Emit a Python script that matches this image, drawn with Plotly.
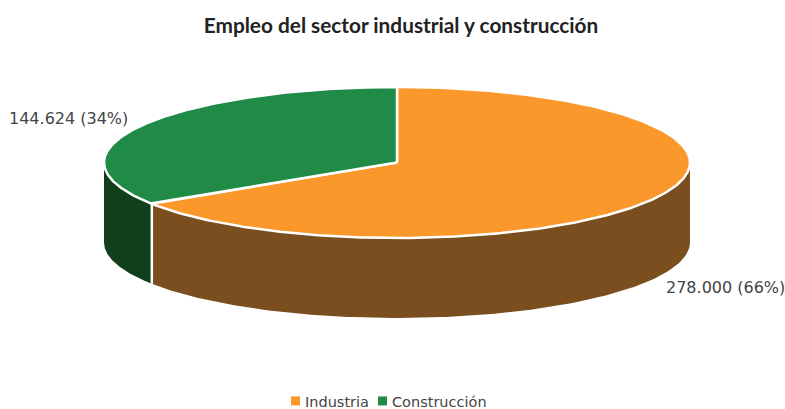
import numpy as np
import plotly.graph_objects as go

title = "Empleo del sector industrial y construcción"
categories = ["Industria", "Construcción"]
values = [278000, 144624]
top_colors = ["#FB982C", "#208A47"]
side_colors = ["#7A4E1E", "#123F1B"]

W, H = 785, 409
CX, CY, RX, RY, DEPTH = 397, 162.5, 293, 75.5, 80
LABEL_POS = [(664, 287, "left"), (130, 118, "right")]

total = sum(values)
fracs = [v / total for v in values]


def ell(t):
    return CX + RX * np.sin(t), CY - RY * np.cos(t)


fig = go.Figure()
edges = np.cumsum([0] + fracs) * 2 * np.pi

# side walls (only the front half of the cylinder is visible)
for i, cat in enumerate(categories):
    a = max(edges[i], np.pi / 2)
    b = min(edges[i + 1], 3 * np.pi / 2)
    if b <= a:
        continue
    t = np.linspace(a, b, 160)
    x, y = ell(t)
    px = np.concatenate([x, x[::-1], x[:1]])
    py = np.concatenate([y, y[::-1] + DEPTH, y[:1]])
    fig.add_trace(go.Scatter(x=px, y=py, mode="lines", fill="toself", fillcolor=side_colors[i],
                             line=dict(color=side_colors[i], width=0), hoverinfo="skip", showlegend=False))

# vertical white separators on the visible wall
for e in edges:
    if np.pi / 2 < e < 3 * np.pi / 2:
        x, y = ell(e)
        fig.add_trace(go.Scatter(x=[x, x], y=[y, y + DEPTH], mode="lines",
                                 line=dict(color="white", width=2.5), hoverinfo="skip", showlegend=False))

# top faces
for i, cat in enumerate(categories):
    t = np.linspace(edges[i], edges[i + 1], 300)
    x, y = ell(t)
    px = np.concatenate([[CX], x, [CX]])
    py = np.concatenate([[CY], y, [CY]])
    fig.add_trace(go.Scatter(x=px, y=py, mode="lines", fill="toself", fillcolor=top_colors[i],
                             line=dict(color="white", width=2.5), hoverinfo="skip", showlegend=False))

# legend entries
for i, cat in enumerate(categories):
    fig.add_trace(go.Scatter(x=[None], y=[None], mode="markers", name=cat,
                             marker=dict(symbol="square", size=9, color=top_colors[i])))

# data labels
for i, v in enumerate(values):
    lx, ly, anchor = LABEL_POS[i]
    txt = f"{v:,}".replace(",", ".") + f" ({round(fracs[i] * 100)}%)"
    fig.add_annotation(x=lx, y=ly, text=txt, showarrow=False, xanchor=anchor, yanchor="middle",
                       font=dict(family="DejaVu Sans", size=16, color="#444444"))

fig.update_layout(
    width=W, height=H, margin=dict(l=0, r=0, t=0, b=0),
    paper_bgcolor="white", plot_bgcolor="white",
    title=dict(text=f"<b>{title}</b>", x=401 / W, xanchor="center", y=0.936, yanchor="middle",
               font=dict(family="Lato", size=20.8, color="#222222")),
    xaxis=dict(range=[0, W], visible=False, fixedrange=True),
    yaxis=dict(range=[H, 0], visible=False, fixedrange=True),
    legend=dict(orientation="h", x=265 / W, xanchor="left", y=0.0, yanchor="bottom",
                font=dict(family="DejaVu Sans", size=14.5, color="#444444"),
                bgcolor="rgba(0,0,0,0)"),
    showlegend=True,
)

# Remove the page margin; tighten the swatch-to-text gap of the legend entries.
post = """
document.body.style.margin = '0';
var tr = /translate\\(([-\\d.]+),\\s*([-\\d.]+)\\)/;
var items = document.querySelectorAll('.legend .traces');
items.forEach(function (it, k) {
  var pts = it.querySelector('.legendpoints');
  if (pts) pts.setAttribute('transform', 'translate(10.5,0)');
  if (k > 0) {
    var m = tr.exec(it.getAttribute('transform'));
    if (m) it.setAttribute('transform', 'translate(' + (parseFloat(m[1]) - 22 * k) + ',' + m[2] + ')');
  }
});
var lg = document.querySelector('.legend');
var lm = tr.exec(lg.getAttribute('transform'));
if (lm) lg.setAttribute('transform', 'translate(' + lm[1] + ',' + (parseFloat(lm[2]) + 8) + ')');
"""
fig.write_html("out.html", config=dict(displayModeBar=False), post_script=post)
